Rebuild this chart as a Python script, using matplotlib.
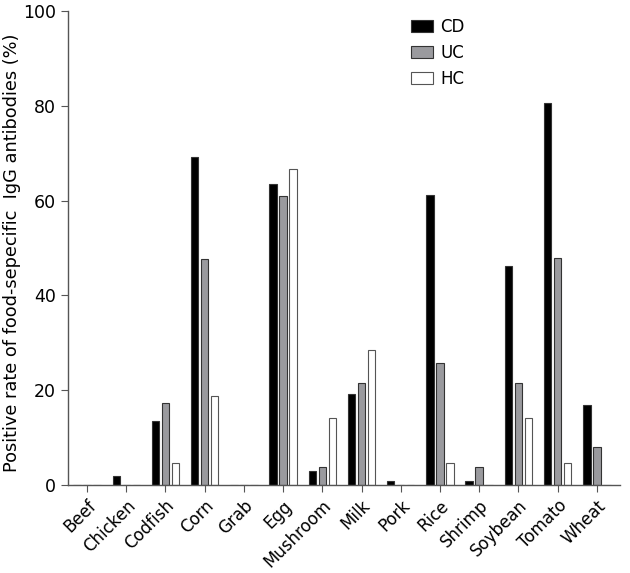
import numpy as np
import matplotlib.pyplot as plt

foods = ['Beef', 'Chicken', 'Codfish', 'Corn', 'Grab', 'Egg', 'Mushroom',
         'Milk', 'Pork', 'Rice', 'Shrimp', 'Soybean', 'Tomato', 'Wheat']
cd = [0, 2.0, 13.5, 69.2, 0, 63.6, 2.9, 19.2, 0.9, 61.3, 0.9, 46.3, 80.6, 16.9]
uc = [0, 0, 17.2, 47.6, 0, 61.0, 3.8, 21.6, 0, 25.8, 3.9, 21.5, 47.8, 8.1]
hc = [0, 0, 4.6, 18.8, 0, 66.6, 14.1, 28.4, 0, 4.6, 0, 14.1, 4.6, 0]

plt.rcParams['font.family'] = ['DejaVu Sans']

fig = plt.figure(figsize=(6.30, 5.73), dpi=100)
ax = fig.add_axes([0.108, 0.1536, 0.876, 0.827])

x = np.arange(len(foods))
w = 0.19
off = 0.255
edge = '#333333'
ax.bar(x - off, cd, w, color='black', edgecolor=edge, linewidth=0.8, label='CD')
ax.bar(x, uc, w, color='#9a9a9e', edgecolor=edge, linewidth=0.8, label='UC')
ax.bar(x + off, hc, w, color='white', edgecolor='#555555', linewidth=0.8, label='HC')

ax.set_xlim(-0.484, 13.59)
ax.set_ylim(0, 100)
ax.set_yticks([0, 20, 40, 60, 80, 100])
ax.set_xticks(x)
ax.set_xticklabels(foods, rotation=45, ha='right', rotation_mode='anchor', fontsize=12)
ax.tick_params(axis='y', labelsize=12.5, length=5, color='#555555', direction='out')
ax.tick_params(axis='x', length=5, color='#555555', direction='out')

for s in ['top', 'right']:
    ax.spines[s].set_visible(False)
for s in ['left', 'bottom']:
    ax.spines[s].set_color('#555555')
    ax.spines[s].set_linewidth(1.0)

ax.set_ylabel('Positive rate of food-sepecific  IgG antibodies (%)', fontsize=12.8)
ax.yaxis.set_label_coords(-0.085, 0.49)

ax.legend(loc='upper left', bbox_to_anchor=(0.595, 1.017), frameon=False, fontsize=12,
          handlelength=1.3, handleheight=0.7, labelspacing=0.48, handletextpad=0.45)

fig.savefig('out.png', dpi=100)
